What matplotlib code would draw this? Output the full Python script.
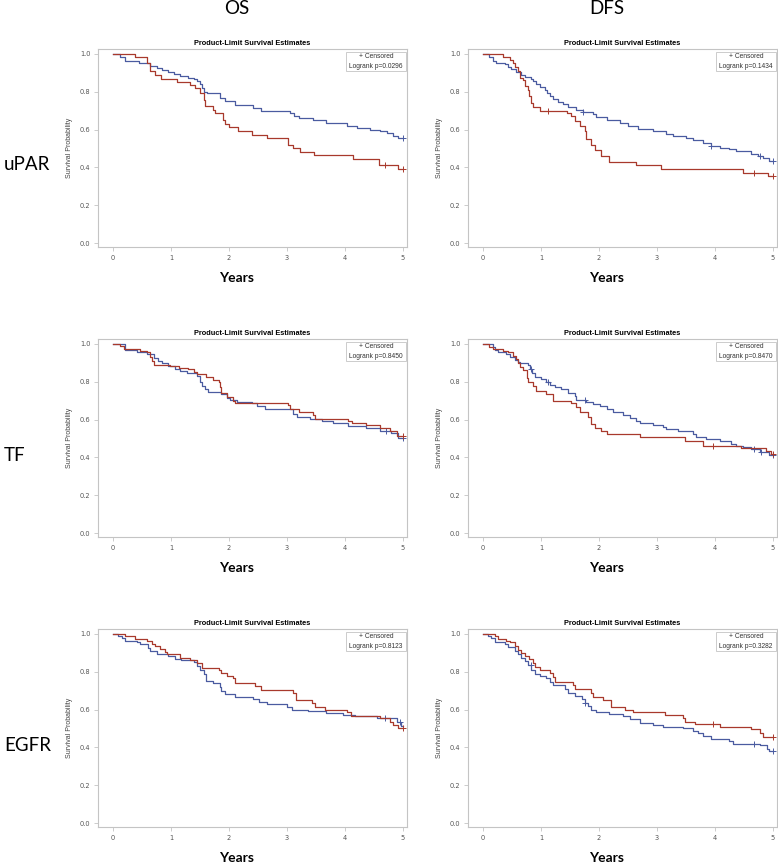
import numpy as np
import matplotlib
matplotlib.use("Agg")
import matplotlib.pyplot as plt
from matplotlib.patches import Rectangle

# step times (years) and survival after each step; c = censor times
upar_os_t1 = [0, 0.12, 0.21, 0.44, 0.64, 0.75, 0.85, 0.95, 1.05, 1.15, 1.3, 1.4, 1.45, 1.5, 1.53, 1.56, 1.62, 1.84, 1.93, 2.1, 2.42, 2.56, 3.05, 3.12, 3.2, 3.45, 3.68, 4.03, 4.2, 4.43, 4.6, 4.72, 4.83, 4.92]
upar_os_s1 = [1.0, 0.982, 0.965, 0.95, 0.935, 0.925, 0.915, 0.905, 0.895, 0.885, 0.875, 0.865, 0.855, 0.84, 0.82, 0.80, 0.795, 0.765, 0.75, 0.73, 0.715, 0.70, 0.685, 0.67, 0.66, 0.65, 0.633, 0.62, 0.61, 0.60, 0.59, 0.58, 0.565, 0.555]
upar_os_c1 = [5.0]
upar_os_t2 = [0, 0.38, 0.59, 0.64, 0.72, 0.82, 1.10, 1.33, 1.41, 1.5, 1.56, 1.59, 1.73, 1.76, 1.89, 1.93, 2.0, 2.16, 2.39, 2.65, 3.02, 3.11, 3.22, 3.47, 4.14, 4.59, 4.92]
upar_os_s2 = [1.0, 0.982, 0.95, 0.91, 0.89, 0.87, 0.853, 0.835, 0.82, 0.795, 0.757, 0.725, 0.703, 0.686, 0.65, 0.63, 0.615, 0.594, 0.571, 0.554, 0.518, 0.50, 0.483, 0.466, 0.443, 0.41, 0.39]
upar_os_c2 = [4.69, 5.0]

upar_dfs_t1 = [0, 0.11, 0.17, 0.23, 0.37, 0.43, 0.49, 0.57, 0.66, 0.72, 0.83, 0.86, 0.92, 0.98, 1.06, 1.11, 1.15, 1.21, 1.29, 1.38, 1.47, 1.61, 1.72, 1.9, 1.95, 2.13, 2.36, 2.5, 2.67, 2.93, 3.16, 3.28, 3.5, 3.62, 3.79, 3.94, 4.08, 4.25, 4.37, 4.63, 4.74, 4.83, 4.94]
upar_dfs_s1 = [1.0, 0.985, 0.965, 0.95, 0.945, 0.93, 0.92, 0.905, 0.89, 0.877, 0.87, 0.855, 0.84, 0.825, 0.81, 0.795, 0.78, 0.76, 0.745, 0.735, 0.72, 0.705, 0.695, 0.68, 0.665, 0.65, 0.635, 0.62, 0.605, 0.59, 0.575, 0.565, 0.555, 0.545, 0.53, 0.515, 0.505, 0.495, 0.485, 0.47, 0.46, 0.45, 0.435]
upar_dfs_c1 = [1.72, 3.94, 4.77, 5.0]
upar_dfs_t2 = [0, 0.34, 0.46, 0.52, 0.55, 0.60, 0.63, 0.69, 0.72, 0.78, 0.80, 0.83, 0.86, 0.98, 1.44, 1.52, 1.58, 1.67, 1.75, 1.78, 1.87, 1.93, 2.04, 2.18, 2.64, 3.07, 4.48, 4.91]
upar_dfs_s2 = [1.0, 0.985, 0.97, 0.95, 0.93, 0.91, 0.875, 0.86, 0.83, 0.81, 0.78, 0.74, 0.72, 0.70, 0.69, 0.67, 0.645, 0.62, 0.59, 0.55, 0.52, 0.49, 0.46, 0.43, 0.41, 0.39, 0.37, 0.355]
upar_dfs_c2 = [1.12, 4.68, 5.0]

tf_os_t1 = [0, 0.21, 0.41, 0.58, 0.7, 0.78, 0.84, 0.95, 1.07, 1.16, 1.27, 1.44, 1.5, 1.53, 1.59, 1.64, 1.87, 1.96, 2.02, 2.13, 2.39, 2.48, 2.62, 3.11, 3.17, 3.4, 3.6, 3.8, 4.06, 4.37, 4.6, 4.8, 4.92]
tf_os_s1 = [1.0, 0.97, 0.955, 0.945, 0.925, 0.91, 0.90, 0.885, 0.87, 0.855, 0.845, 0.83, 0.80, 0.78, 0.76, 0.745, 0.735, 0.715, 0.705, 0.695, 0.685, 0.67, 0.655, 0.63, 0.615, 0.605, 0.59, 0.58, 0.565, 0.555, 0.54, 0.53, 0.505]
tf_os_c1 = [4.7, 5.0]
tf_os_t2 = [0, 0.12, 0.18, 0.47, 0.58, 0.64, 0.67, 0.70, 0.98, 1.13, 1.3, 1.39, 1.45, 1.61, 1.73, 1.82, 1.84, 1.87, 1.96, 2.07, 2.1, 3.02, 3.05, 3.2, 3.45, 3.48, 4.06, 4.12, 4.37, 4.6, 4.78, 4.89]
tf_os_s2 = [1.0, 0.99, 0.975, 0.965, 0.955, 0.93, 0.91, 0.89, 0.885, 0.875, 0.865, 0.85, 0.84, 0.825, 0.81, 0.80, 0.77, 0.74, 0.72, 0.70, 0.685, 0.675, 0.655, 0.64, 0.625, 0.605, 0.59, 0.58, 0.57, 0.555, 0.54, 0.515]
tf_os_c2 = [5.0]

tf_dfs_t1 = [0, 0.17, 0.2, 0.26, 0.4, 0.46, 0.55, 0.6, 0.63, 0.78, 0.81, 0.85, 0.89, 1.0, 1.09, 1.15, 1.24, 1.35, 1.47, 1.58, 1.61, 1.78, 1.9, 2.01, 2.13, 2.24, 2.41, 2.53, 2.64, 2.7, 2.93, 3.1, 3.16, 3.36, 3.62, 3.68, 3.85, 4.08, 4.28, 4.37, 4.48, 4.63, 4.77, 4.94]
tf_dfs_s1 = [1.0, 0.985, 0.97, 0.955, 0.945, 0.93, 0.915, 0.905, 0.90, 0.89, 0.87, 0.845, 0.825, 0.815, 0.80, 0.785, 0.77, 0.76, 0.74, 0.725, 0.705, 0.695, 0.68, 0.67, 0.655, 0.64, 0.625, 0.61, 0.59, 0.58, 0.57, 0.56, 0.55, 0.54, 0.525, 0.51, 0.495, 0.485, 0.47, 0.46, 0.455, 0.445, 0.43, 0.41]
tf_dfs_c1 = [0.83, 1.12, 1.75, 4.68, 4.8, 5.0]
tf_dfs_t2 = [0, 0.11, 0.17, 0.34, 0.43, 0.52, 0.57, 0.6, 0.63, 0.69, 0.75, 0.78, 0.86, 0.92, 1.09, 1.21, 1.52, 1.61, 1.67, 1.81, 1.87, 1.93, 2.04, 2.13, 2.7, 3.48, 3.79, 4.45, 4.88, 4.97]
tf_dfs_s2 = [1.0, 0.985, 0.975, 0.965, 0.955, 0.935, 0.92, 0.90, 0.88, 0.86, 0.82, 0.80, 0.78, 0.75, 0.735, 0.70, 0.685, 0.665, 0.64, 0.615, 0.575, 0.555, 0.54, 0.525, 0.51, 0.485, 0.46, 0.45, 0.435, 0.42]
tf_dfs_c2 = [3.97, 5.0]

egfr_os_t1 = [0, 0.09, 0.15, 0.21, 0.41, 0.47, 0.61, 0.64, 0.75, 0.95, 1.07, 1.18, 1.39, 1.44, 1.5, 1.56, 1.61, 1.73, 1.84, 1.87, 1.93, 2.1, 2.42, 2.51, 2.65, 3.0, 3.08, 3.37, 3.68, 3.97, 4.17, 4.55, 4.89, 4.97]
egfr_os_s1 = [1.0, 0.99, 0.98, 0.965, 0.955, 0.945, 0.925, 0.91, 0.895, 0.885, 0.87, 0.86, 0.85, 0.83, 0.81, 0.79, 0.75, 0.74, 0.72, 0.70, 0.68, 0.665, 0.655, 0.64, 0.63, 0.615, 0.60, 0.59, 0.58, 0.57, 0.565, 0.555, 0.535, 0.515]
egfr_os_c1 = [4.69, 4.95]
egfr_os_t2 = [0, 0.21, 0.38, 0.58, 0.67, 0.72, 0.81, 0.9, 0.93, 1.16, 1.33, 1.44, 1.53, 1.82, 1.87, 1.96, 2.07, 2.1, 2.45, 2.56, 3.1, 3.15, 3.43, 3.49, 3.66, 4.03, 4.11, 4.6, 4.78, 4.83, 4.92]
egfr_os_s2 = [1.0, 0.99, 0.975, 0.96, 0.945, 0.935, 0.92, 0.905, 0.895, 0.875, 0.86, 0.845, 0.82, 0.81, 0.795, 0.78, 0.765, 0.74, 0.725, 0.705, 0.685, 0.65, 0.635, 0.615, 0.60, 0.585, 0.565, 0.555, 0.535, 0.52, 0.505]
egfr_os_c2 = [5.0]

egfr_dfs_t1 = [0, 0.09, 0.14, 0.2, 0.37, 0.43, 0.55, 0.6, 0.66, 0.72, 0.78, 0.83, 0.89, 0.98, 1.09, 1.15, 1.21, 1.41, 1.47, 1.58, 1.7, 1.75, 1.81, 1.87, 1.95, 2.18, 2.41, 2.53, 2.7, 2.93, 3.1, 3.45, 3.62, 3.71, 3.79, 3.94, 4.25, 4.31, 4.77, 4.89, 4.94]
egfr_dfs_s1 = [1.0, 0.99, 0.98, 0.955, 0.945, 0.93, 0.91, 0.895, 0.875, 0.855, 0.835, 0.81, 0.79, 0.78, 0.765, 0.745, 0.73, 0.71, 0.685, 0.67, 0.655, 0.635, 0.62, 0.60, 0.585, 0.575, 0.565, 0.55, 0.53, 0.52, 0.51, 0.50, 0.485, 0.475, 0.46, 0.445, 0.435, 0.42, 0.41, 0.39, 0.38]
egfr_dfs_c1 = [0.82, 1.75, 4.68, 5.0]
egfr_dfs_t2 = [0, 0.2, 0.26, 0.4, 0.46, 0.55, 0.6, 0.66, 0.72, 0.8, 0.86, 0.89, 0.98, 1.15, 1.21, 1.24, 1.55, 1.58, 1.87, 1.9, 2.07, 2.21, 2.44, 2.59, 3.13, 3.45, 3.48, 3.65, 4.08, 4.63, 4.77, 4.83]
egfr_dfs_s2 = [1.0, 0.99, 0.975, 0.965, 0.955, 0.935, 0.915, 0.90, 0.885, 0.865, 0.845, 0.825, 0.81, 0.795, 0.77, 0.745, 0.73, 0.71, 0.69, 0.665, 0.65, 0.615, 0.60, 0.585, 0.57, 0.555, 0.535, 0.525, 0.51, 0.495, 0.475, 0.455]
egfr_dfs_c2 = [3.97, 5.0]

row_labels = ["uPAR", "TF", "EGFR"]
col_labels = ["OS", "DFS"]
pvalues = [["0.0296", "0.1434"], ["0.8450", "0.8470"], ["0.8123", "0.3282"]]

curves = [
    [(upar_os_t1, upar_os_s1, upar_os_c1, upar_os_t2, upar_os_s2, upar_os_c2),
     (upar_dfs_t1, upar_dfs_s1, upar_dfs_c1, upar_dfs_t2, upar_dfs_s2, upar_dfs_c2)],
    [(tf_os_t1, tf_os_s1, tf_os_c1, tf_os_t2, tf_os_s2, tf_os_c2),
     (tf_dfs_t1, tf_dfs_s1, tf_dfs_c1, tf_dfs_t2, tf_dfs_s2, tf_dfs_c2)],
    [(egfr_os_t1, egfr_os_s1, egfr_os_c1, egfr_os_t2, egfr_os_s2, egfr_os_c2),
     (egfr_dfs_t1, egfr_dfs_s1, egfr_dfs_c1, egfr_dfs_t2, egfr_dfs_s2, egfr_dfs_c2)],
]

BLUE = "#4a5ba0"
RED = "#a8392c"
FRAME = "#c4c4c4"

W, H = 778, 863
fig = plt.figure(figsize=(W / 100, H / 100), dpi=100)

col_left = [98, 468]
row_top = [49, 339, 629]
ax_w, ax_h = 309, 198


def draw_curve(ax, t, s, cens, color):
    t = np.array(t)
    s = np.array(s)
    ax.step(np.append(t, 5.0), np.append(s, s[-1]), where="post", color=color, lw=0.9)
    idx = np.searchsorted(t, cens, side="right") - 1
    ax.plot(cens, s[idx], ls="none", marker="+", ms=4, mew=0.7, color=color)


for r in range(3):
    for c in range(2):
        x0 = col_left[c]
        y0 = row_top[r]
        ax = fig.add_axes([x0 / W, 1 - (y0 + ax_h) / H, ax_w / W, ax_h / H])
        t1, s1, c1, t2, s2, c2 = curves[r][c]
        draw_curve(ax, t1, s1, c1, BLUE)
        draw_curve(ax, t2, s2, c2, RED)
        ax.set_xlim(-0.26, 5.07)
        ax.set_ylim(-0.021, 1.026)
        ax.set_xticks(range(6))
        ax.set_yticks([0, 0.2, 0.4, 0.6, 0.8, 1.0])
        ax.set_yticklabels(["0.0", "0.2", "0.4", "0.6", "0.8", "1.0"])
        ax.tick_params(direction="out", length=3, width=0.6, color=FRAME,
                       labelsize=4.8, labelcolor="#555555", pad=2.5)
        for sp in ax.spines.values():
            sp.set_color(FRAME)
            sp.set_linewidth(0.8)
        ax.set_title("Product-Limit Survival Estimates", fontsize=5.3,
                     fontweight="bold", family="Liberation Sans", pad=3)
        ax.set_ylabel("Survival Probability", fontsize=5, color="#444444",
                      family="Liberation Sans", labelpad=5)
        # legend box
        ax.add_patch(Rectangle((0.803, 0.889), 0.194, 0.096, transform=ax.transAxes,
                               fill=False, edgecolor="#cccccc", lw=0.7))
        ax.text(0.90, 0.962, "+ Censored", transform=ax.transAxes, ha="center",
                va="center", fontsize=4.8, color="#333333", family="Liberation Sans")
        ax.text(0.90, 0.912, "Logrank p=" + pvalues[r][c], transform=ax.transAxes,
                ha="center", va="center", fontsize=4.8, color="#333333",
                family="Liberation Sans")
        # big x label
        xc = [237, 607][c]
        fig.text(xc / W, 1 - (y0 + 229) / H, "Years", ha="center", va="center",
                 fontsize=10, fontweight="bold", family="Lato")

for c in range(2):
    fig.text([237, 607][c] / W, 1 - 9 / H, col_labels[c], ha="center", va="center",
             fontsize=13.5, family="Lato")

for r in range(3):
    fig.text(4 / W, 1 - (row_top[r] + 116) / H, row_labels[r], ha="left",
             va="center", fontsize=13.5, family="Lato")

fig.savefig("out.png", dpi=100)
